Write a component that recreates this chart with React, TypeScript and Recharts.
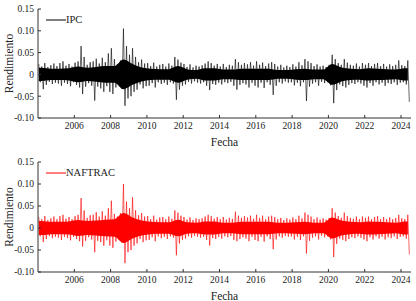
import { ComposedChart, Line, Area, XAxis, YAxis, Legend } from "recharts"

// bimonthly bins starting Jan 2004: highest and lowest daily return seen in each bin
const START_YEAR = 2004
const BINS_PER_YEAR = 6

const YEAR_TICKS = [2006, 2008, 2010, 2012, 2014, 2016, 2018, 2020, 2022, 2024]
const RETURN_TICKS = [-0.1, -0.05, 0, 0.05, 0.1, 0.15]

const IPC_HIGH = [
  0.024, 0.018, 0.026, 0.017, 0.021, 0.025,
  0.019, 0.026, 0.03, 0.02, 0.024, 0.018,
  0.027, 0.03, 0.065, 0.04, 0.022, 0.028,
  0.03, 0.036, 0.025, 0.038, 0.028, 0.048,
  0.06, 0.035, 0.024, 0.032, 0.105, 0.065,
  0.045, 0.06, 0.04, 0.028, 0.034, 0.025,
  0.026, 0.019, 0.027, 0.018, 0.022, 0.024,
  0.018, 0.025, 0.02, 0.04, 0.034, 0.027,
  0.024, 0.017, 0.023, 0.016, 0.02, 0.018,
  0.021, 0.025, 0.03, 0.026, 0.02, 0.024,
  0.018, 0.024, 0.017, 0.022, 0.02, 0.035,
  0.028, 0.022, 0.026, 0.023, 0.028, 0.02,
  0.03, 0.022, 0.027, 0.019, 0.025, 0.028,
  0.024, 0.018, 0.022, 0.016, 0.02, 0.017,
  0.023, 0.018, 0.028, 0.021, 0.035, 0.03,
  0.026, 0.019, 0.023, 0.018, 0.02, 0.017,
  0.022, 0.045, 0.035, 0.026, 0.022, 0.035,
  0.027, 0.022, 0.02, 0.025, 0.018, 0.026,
  0.022, 0.026, 0.019, 0.024, 0.026, 0.019,
  0.024, 0.018, 0.023, 0.019, 0.022, 0.032,
  0.021, 0.019, 0.032,
]
const IPC_LOW = [
  -0.018, -0.034, -0.024, -0.017, -0.022, -0.019,
  -0.021, -0.026, -0.019, -0.022, -0.027, -0.018,
  -0.024, -0.03, -0.045, -0.028, -0.02, -0.026,
  -0.06, -0.028, -0.032, -0.04, -0.027, -0.04,
  -0.045, -0.03, -0.024, -0.033, -0.072, -0.055,
  -0.05, -0.04, -0.035, -0.023, -0.032, -0.027,
  -0.026, -0.02, -0.03, -0.018, -0.022, -0.019,
  -0.024, -0.018, -0.021, -0.058, -0.035, -0.026,
  -0.023, -0.017, -0.021, -0.016, -0.019, -0.021,
  -0.018, -0.026, -0.036, -0.022, -0.024, -0.019,
  -0.023, -0.018, -0.02, -0.017, -0.026, -0.035,
  -0.024, -0.02, -0.023, -0.03, -0.019, -0.026,
  -0.03, -0.019, -0.031, -0.018, -0.024, -0.047,
  -0.026, -0.018, -0.021, -0.016, -0.019, -0.018,
  -0.025, -0.019, -0.027, -0.018, -0.061, -0.028,
  -0.021, -0.018, -0.026, -0.017, -0.02, -0.018,
  -0.025, -0.066, -0.036, -0.023, -0.027, -0.03,
  -0.024, -0.02, -0.022, -0.018, -0.021, -0.026,
  -0.03, -0.02, -0.026, -0.018, -0.023, -0.019,
  -0.026, -0.02, -0.022, -0.018, -0.024, -0.019,
  -0.018, -0.023, -0.063,
]
// half-year width of the dense core of daily moves (H1, H2)
const IPC_CORE = [
  0.015, 0.013, 0.013, 0.014, 0.018, 0.015, 0.017, 0.019, 0.019, 0.034,
  0.024, 0.016, 0.013, 0.012, 0.012, 0.019, 0.012, 0.01, 0.014, 0.014,
  0.011, 0.011, 0.013, 0.013, 0.013, 0.013, 0.01, 0.01, 0.012, 0.013,
  0.011, 0.011, 0.024, 0.016, 0.013, 0.012, 0.014, 0.013, 0.012, 0.011,
  0.014,
]

const NAFTRAC_HIGH = [
  0.025, 0.02, 0.027, 0.018, 0.022, 0.026,
  0.02, 0.027, 0.03, 0.021, 0.025, 0.02,
  0.027, 0.03, 0.068, 0.04, 0.023, 0.029,
  0.03, 0.036, 0.026, 0.038, 0.028, 0.045,
  0.062, 0.032, 0.026, 0.034, 0.1, 0.06,
  0.045, 0.07, 0.04, 0.029, 0.034, 0.026,
  0.027, 0.02, 0.028, 0.019, 0.024, 0.025,
  0.02, 0.026, 0.021, 0.04, 0.035, 0.028,
  0.025, 0.019, 0.024, 0.018, 0.022, 0.02,
  0.022, 0.026, 0.03, 0.027, 0.021, 0.025,
  0.02, 0.025, 0.019, 0.023, 0.021, 0.037,
  0.028, 0.023, 0.027, 0.024, 0.028, 0.021,
  0.03, 0.023, 0.028, 0.02, 0.026, 0.028,
  0.025, 0.02, 0.023, 0.018, 0.022, 0.019,
  0.024, 0.02, 0.028, 0.022, 0.035, 0.03,
  0.026, 0.02, 0.024, 0.019, 0.022, 0.019,
  0.023, 0.045, 0.035, 0.027, 0.023, 0.035,
  0.027, 0.023, 0.021, 0.026, 0.02, 0.026,
  0.023, 0.026, 0.02, 0.025, 0.027, 0.02,
  0.025, 0.02, 0.024, 0.02, 0.023, 0.03,
  0.022, 0.02, 0.03,
]
const NAFTRAC_LOW = [
  -0.019, -0.032, -0.025, -0.018, -0.023, -0.02,
  -0.022, -0.027, -0.02, -0.023, -0.028, -0.02,
  -0.025, -0.03, -0.042, -0.029, -0.021, -0.026,
  -0.055, -0.029, -0.032, -0.04, -0.028, -0.04,
  -0.045, -0.031, -0.026, -0.033, -0.08, -0.055,
  -0.05, -0.04, -0.035, -0.025, -0.032, -0.028,
  -0.027, -0.021, -0.03, -0.019, -0.023, -0.02,
  -0.025, -0.019, -0.022, -0.062, -0.035, -0.027,
  -0.024, -0.019, -0.022, -0.018, -0.02, -0.022,
  -0.02, -0.027, -0.04, -0.023, -0.025, -0.02,
  -0.024, -0.019, -0.021, -0.018, -0.027, -0.03,
  -0.025, -0.021, -0.024, -0.03, -0.02, -0.027,
  -0.03, -0.02, -0.031, -0.019, -0.025, -0.048,
  -0.026, -0.019, -0.022, -0.018, -0.02, -0.019,
  -0.026, -0.02, -0.027, -0.019, -0.058, -0.029,
  -0.022, -0.019, -0.026, -0.018, -0.021, -0.019,
  -0.026, -0.066, -0.036, -0.024, -0.027, -0.03,
  -0.025, -0.021, -0.023, -0.019, -0.022, -0.026,
  -0.03, -0.021, -0.026, -0.019, -0.024, -0.02,
  -0.026, -0.021, -0.023, -0.019, -0.025, -0.02,
  -0.019, -0.024, -0.06,
]
const NAFTRAC_CORE = [
  0.016, 0.014, 0.014, 0.015, 0.018, 0.016, 0.017, 0.019, 0.02, 0.034,
  0.024, 0.017, 0.014, 0.013, 0.013, 0.019, 0.013, 0.012, 0.015, 0.015,
  0.012, 0.012, 0.014, 0.014, 0.014, 0.014, 0.012, 0.012, 0.013, 0.014,
  0.012, 0.012, 0.024, 0.017, 0.014, 0.013, 0.015, 0.014, 0.013, 0.012,
  0.015,
]

const FONT = "Liberation Serif, Times New Roman, serif"

type Row = { fecha: number; valor: number; nucleo?: [number, number] }

function buildSeries(high: number[], low: number[], core: number[]) {
  const rows: Row[] = []
  const last = high.length - 1
  high.forEach((h, i) => {
    const start = START_YEAR + i / BINS_PER_YEAR
    const c = core[Math.floor(i / 3)]
    // the core band is anchored at the middle of each half-year and at both ends
    const anchored = i % 3 === 1 || i === 0 || i === last
    rows.push({ fecha: start + 1 / 24, valor: h, nucleo: anchored ? [-c, c] : undefined })
    rows.push({ fecha: start + 3 / 24, valor: low[i] })
  })
  return rows
}

const fmtReturn = (v: number) => (v === 0 ? "0" : v.toFixed(2))

type PanelProps = {
  name: string
  color: string
  high: number[]
  low: number[]
  core: number[]
  height: number
  top: number
  bottom: number
}

function ReturnPanel({ name, color, high, low, core, height, top, bottom }: PanelProps) {
  const data = buildSeries(high, low, core)
  const tickStyle = { fontFamily: FONT, fontSize: 9.5, fill: "#222" }
  return (
    <ComposedChart width={416} height={height} data={data} margin={{ top, right: 5, bottom, left: 0 }}>
      <XAxis
        dataKey="fecha"
        type="number"
        domain={[2004, 2024.55]}
        ticks={YEAR_TICKS}
        allowDataOverflow
        height={28}
        tickSize={-3}
        tickMargin={7}
        tick={tickStyle}
        stroke="#333"
        label={{ value: "Fecha", position: "insideBottom", offset: 0, style: { fontFamily: FONT, fontSize: 11.5, fill: "#222" } }}
      />
      <XAxis
        xAxisId="top"
        orientation="top"
        dataKey="fecha"
        type="number"
        domain={[2004, 2024.55]}
        ticks={YEAR_TICKS}
        allowDataOverflow
        height={0}
        tickSize={-3}
        tickFormatter={() => ""}
        stroke="#333"
      />
      <YAxis
        type="number"
        domain={[-0.1, 0.15]}
        ticks={RETURN_TICKS}
        width={38}
        tickSize={-3}
        tickMargin={7}
        tick={tickStyle}
        tickFormatter={fmtReturn}
        stroke="#333"
        label={{
          value: "Rendimiento",
          angle: -90,
          position: "insideLeft",
          offset: 9,
          style: { fontFamily: FONT, fontSize: 11.5, fill: "#222", textAnchor: "middle" },
        }}
      />
      <YAxis
        yAxisId="right"
        orientation="right"
        type="number"
        domain={[-0.1, 0.15]}
        ticks={RETURN_TICKS}
        width={0}
        tickSize={-3}
        tickFormatter={() => ""}
        stroke="#333"
      />
      <Legend
        layout="horizontal"
        verticalAlign="middle"
        align="center"
        wrapperStyle={{ left: 46, top: top + 5, width: "auto" }}
        content={() => (
          <div style={{ display: "flex", alignItems: "center", fontFamily: FONT, fontSize: 10.5, color: "#222" }}>
            <svg width={20} height={6}>
              <line x1={0} y1={3} x2={20} y2={3} stroke={color} strokeWidth={1} />
            </svg>
            <span>{name}</span>
          </div>
        )}
      />
      <Area
        type="monotone"
        dataKey="nucleo"
        connectNulls
        stroke="none"
        fill={color}
        fillOpacity={1}
        isAnimationActive={false}
        legendType="none"
      />
      <Line
        type="linear"
        dataKey="valor"
        name={name}
        stroke={color}
        strokeWidth={0.6}
        dot={false}
        isAnimationActive={false}
      />
    </ComposedChart>
  )
}

export default function App() {
  return (
    <div style={{ position: "absolute", left: 0, top: 0, width: 416, height: 301, background: "#fff", fontFamily: FONT }}>
      <ReturnPanel name="IPC" color="#000000" high={IPC_HIGH} low={IPC_LOW} core={IPC_CORE} height={150} top={9} bottom={4} />
      <ReturnPanel name="NAFTRAC" color="#ff0000" high={NAFTRAC_HIGH} low={NAFTRAC_LOW} core={NAFTRAC_CORE} height={151} top={12} bottom={1} />
    </div>
  )
}
